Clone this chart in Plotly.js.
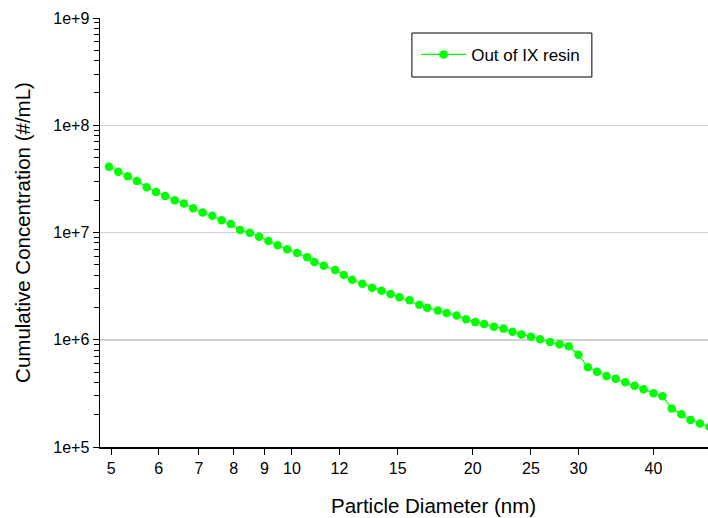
<!DOCTYPE html>
<html>
<head>
<meta charset="utf-8">
<script src="https://cdn.plot.ly/plotly-3.0.1.min.js"></script>
<style>html,body{margin:0;padding:0;background:#fff;} #chart{width:708px;height:518px;}</style>
</head>
<body>
<div id="chart"></div>
<script>
// Particle diameter (nm)
const diameters = [4.96,5.14,5.33,5.52,5.73,5.94,6.15,6.38,6.61,6.85,7.10,7.37,7.64,7.91,8.20,8.51,8.82,9.14,9.47,9.82,10.2,10.6,10.9,11.3,11.8,12.2,12.6,13.1,13.6,14.1,14.6,15.1,15.7,16.3,16.8,17.5,18.1,18.8,19.5,20.2,20.9,21.7,22.5,23.3,24.1,25.0,25.9,26.9,27.9,28.9,30.0,31.1,32.2,33.4,34.6,35.9,37.2,38.5,40.0,41.4,42.9,44.5,46.1,47.8,49.6];
// Cumulative concentration (#/mL), "Out of IX resin"
const concentration = [4.11e7,3.69e7,3.34e7,3.02e7,2.64e7,2.39e7,2.19e7,2.00e7,1.86e7,1.68e7,1.54e7,1.43e7,1.30e7,1.20e7,1.055e7,9.96e6,9.14e6,8.33e6,7.60e6,6.97e6,6.44e6,5.87e6,5.31e6,4.90e6,4.47e6,4.02e6,3.63e6,3.33e6,3.06e6,2.87e6,2.67e6,2.49e6,2.33e6,2.12e6,1.99e6,1.87e6,1.78e6,1.68e6,1.55e6,1.46e6,1.40e6,1.32e6,1.27e6,1.185e6,1.12e6,1.068e6,1.01e6,9.53e5,9.07e5,8.69e5,7.25e5,5.54e5,5.04e5,4.59e5,4.33e5,4.01e5,3.73e5,3.45e5,3.17e5,2.97e5,2.28e5,2.02e5,1.79e5,1.66e5,1.54e5];
const seriesName = "Out of IX resin";
const xTickVals = [5,6,7,8,9,10,12,15,20,25,30,40];
const xTickText = ["5","6","7","8","9","10","12","15","20","25","30","40"];
const yTickVals = [1e5,1e6,1e7,1e8,1e9];
const yTickText = ["1e+5","1e+6","1e+7","1e+8","1e+9"];
const yMinorTickVals = [2e5,3e5,4e5,5e5,6e5,7e5,8e5,9e5,
                        2e6,3e6,4e6,5e6,6e6,7e6,8e6,9e6,
                        2e7,3e7,4e7,5e7,6e7,7e7,8e7,9e7,
                        2e8,3e8,4e8,5e8,6e8,7e8,8e8,9e8];
const xTitle = "Particle Diameter (nm)";
const yTitle = "Cumulative Concentration (#/mL)";

const FONT = "Liberation Sans, Arial, sans-serif";

const trace = {
  x: diameters, y: concentration, name: seriesName,
  type: "scatter", mode: "lines+markers",
  line: {color: "#00ff00", width: 1.2},
  marker: {color: "#00ff00", size: 8.5, line: {width: 0}}
};

const layout = {
  width: 708, height: 518,
  margin: {l: 100, r: 0, t: 18, b: 71},
  paper_bgcolor: "#ffffff", plot_bgcolor: "#ffffff",
  font: {family: FONT, color: "#000", size: 16},
  showlegend: true,
  legend: {x: 0.52, y: 0.914, xanchor: "left", yanchor: "middle",
           bgcolor: "rgba(0,0,0,0)", borderwidth: 0, itemwidth: 45,
           font: {family: FONT, size: 17, color: "#000"}},
  shapes: [{type: "rect", xref: "paper", yref: "paper",
            x0: 0.513, x1: 0.809, y0: 0.8625, y1: 0.965,
            line: {color: "#000", width: 1}, fillcolor: "rgba(0,0,0,0)"}],
  annotations: [{text: xTitle, xref: "paper", yref: "paper",
                 x: 0.549, y: -0.1375, xanchor: "center", yanchor: "middle",
                 showarrow: false, font: {family: FONT, size: 20.5, color: "#000"}}],
  xaxis: {
    type: "log", range: [0.6805, 1.6928],
    tickmode: "array", tickvals: xTickVals, ticktext: xTickText,
    ticks: "outside", ticklen: 6, tickcolor: "#000", tickwidth: 1,
    showline: true, linecolor: "#000", linewidth: 1.5,
    showgrid: false, zeroline: false,
    tickfont: {family: FONT, size: 16, color: "#000"}
  },
  yaxis: {
    type: "log", range: [5, 9],
    tickmode: "array", tickvals: yTickVals, ticktext: yTickText,
    ticks: "outside", ticklen: 6, tickcolor: "#000", tickwidth: 1,
    showline: true, linecolor: "#000", linewidth: 1.5,
    showgrid: true, gridcolor: "#d0d0d0", gridwidth: 1.5, zeroline: false,
    minor: {tickmode: "array", tickvals: yMinorTickVals, ticks: "outside", ticklen: 5,
            tickcolor: "#000", tickwidth: 1, showgrid: false},
    tickfont: {family: FONT, size: 16, color: "#000"},
    title: {text: yTitle, font: {family: FONT, size: 20.5, color: "#000"}, standoff: 17}
  }
};

Plotly.newPlot("chart", [trace], layout, {displayModeBar: false, staticPlot: true});
</script>
</body>
</html>
